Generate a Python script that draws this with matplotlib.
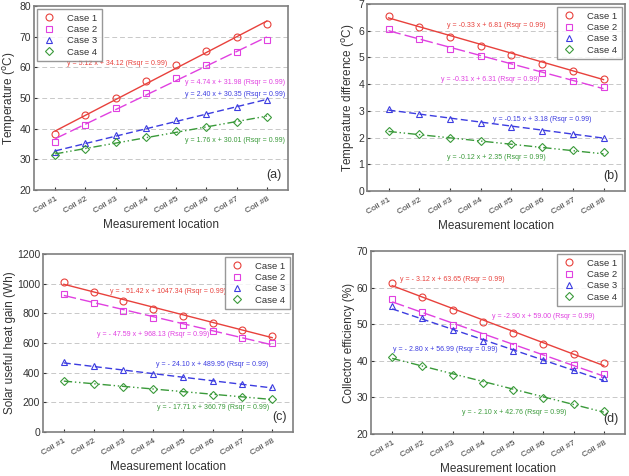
import matplotlib
matplotlib.use("Agg")
import matplotlib.pyplot as plt
import numpy as np

plt.rcParams.update({"font.family": ["Liberation Sans", "DejaVu Sans"], "font.size": 7})

COILS = ["Coil #1", "Coil #2", "Coil #3", "Coil #4", "Coil #5", "Coil #6", "Coil #7", "Coil #8"]
CASES = ["Case 1", "Case 2", "Case 3", "Case 4"]

# (a) temperature
temp_c1 = [38.2, 44.3, 50.1, 55.5, 60.6, 65.3, 69.9, 74.1]
temp_c2 = [35.7, 41.2, 46.6, 51.7, 56.4, 60.7, 64.9, 68.9]
temp_c3 = [32.4, 35.2, 37.8, 40.3, 42.7, 44.9, 47.0, 49.2]
temp_c4 = [31.3, 33.5, 35.5, 37.3, 39.1, 40.7, 42.3, 43.7]
temp_fit = [(5.12, 34.12), (4.74, 31.98), (2.40, 30.35), (1.76, 30.01)]
temp_eq = ["y = 5.12 x + 34.12 (Rsqr = 0.99)", "y = 4.74 x + 31.98 (Rsqr = 0.99)",
           "y = 2.40 x + 30.35 (Rsqr = 0.99)", "y = 1.76 x + 30.01 (Rsqr = 0.99)"]

# (b) temperature difference
dt_c1 = [6.55, 6.15, 5.77, 5.42, 5.08, 4.77, 4.48, 4.20]
dt_c2 = [6.05, 5.68, 5.33, 5.05, 4.70, 4.40, 4.13, 3.88]
dt_c3 = [3.07, 2.88, 2.70, 2.55, 2.40, 2.25, 2.15, 1.98]
dt_c4 = [2.25, 2.12, 2.00, 1.87, 1.75, 1.65, 1.55, 1.45]
dt_fit = [(-0.33, 6.81), (-0.31, 6.31), (-0.15, 3.18), (-0.12, 2.35)]
dt_eq = ["y = -0.33 x + 6.81 (Rsqr = 0.99)", "y = -0.31 x + 6.31 (Rsqr = 0.99)",
         "y = -0.15 x + 3.18 (Rsqr = 0.99)", "y = -0.12 x + 2.35 (Rsqr = 0.99)"]

# (c) solar useful heat gain
q_c1 = [1008, 945, 885, 832, 783, 735, 690, 647]
q_c2 = [932, 872, 818, 770, 720, 680, 635, 598]
q_c3 = [470, 442, 415, 392, 368, 345, 322, 302]
q_c4 = [347, 325, 305, 287, 268, 252, 237, 220]
q_fit = [(-51.42, 1047.34), (-47.59, 968.13), (-24.10, 489.95), (-17.71, 360.79)]
q_eq = ["y = - 51.42 x + 1047.34 (Rsqr = 0.99)", "y = - 47.59 x + 968.13 (Rsqr = 0.99)",
        "y = - 24.10 x + 489.95 (Rsqr = 0.99)", "y = - 17.71 x + 360.79 (Rsqr = 0.99)"]

# (d) collector efficiency
eff_c1 = [61.2, 57.5, 54.0, 50.6, 47.5, 44.6, 41.9, 39.3]
eff_c2 = [56.8, 53.3, 49.9, 46.9, 44.0, 41.3, 38.8, 36.4]
eff_c3 = [55.0, 51.6, 48.3, 45.5, 42.8, 40.1, 37.5, 35.2]
eff_c4 = [41.1, 38.6, 36.2, 33.9, 31.9, 29.9, 28.1, 26.4]
eff_fit = [(-3.12, 63.65), (-2.90, 59.00), (-2.80, 56.99), (-2.10, 42.76)]
eff_eq = ["y = - 3.12 x + 63.65 (Rsqr = 0.99)", "y = -2.90 x + 59.00 (Rsqr = 0.99)",
          "y = - 2.80 x + 56.99 (Rsqr = 0.99)", "y = - 2.10 x + 42.76 (Rsqr = 0.99)"]

COL = ["#e8413c", "#e040e0", "#3c3ce0", "#3a9a3a"]
MK = ["o", "s", "^", "D"]
LS = ["-", (0, (9, 3)), (0, (5, 2.5)), (0, (6, 2, 1, 2, 1, 2))]
GRAY = "#7f7f7f"

W, H = 629, 476
fig = plt.figure(figsize=(W / 100, H / 100), dpi=100)


def panel(box, series, fits, eqs, ylim, yticks, ylabel, tag, eqpos, legloc):
    l, t, r, b = box
    ax = fig.add_axes([l / W, 1 - b / H, (r - l) / W, (b - t) / H])
    x = np.arange(1, 9)
    handles = []
    for i, ys in enumerate(series):
        h, = ax.plot(x, ys, ls="none", marker=MK[i], mfc="none", mec=COL[i],
                     ms=5 if MK[i] != "D" else 4.3, mew=0.8, label=CASES[i])
        handles.append(h)
        a, c = fits[i]
        xx = np.array([1, 8])
        ax.plot(xx, a * xx + c, color=COL[i], ls=LS[i], lw=1.0)
        tx, ty, ha = eqpos[i]
        ax.text(tx, ty, eqs[i], color=COL[i], fontsize=5.0, ha=ha, va="center")
    ax.set_xlim(0.3, 8.7)
    ax.set_ylim(*ylim)
    ax.set_yticks(yticks)
    ax.set_xticks(x)
    ax.set_xticklabels(COILS, rotation=30, ha="right", rotation_mode="anchor", fontsize=6)
    ax.tick_params(axis="y", labelsize=7.5, colors="#333333", direction="in", length=2, pad=2)
    ax.tick_params(axis="x", colors="#333333", direction="in", length=2, pad=4)
    for yv in yticks[1:-1]:
        ax.axhline(yv, color="#c8c8c8", ls=(0, (5, 3)), lw=0.7, zorder=0)
    for s in ax.spines.values():
        s.set_color(GRAY)
        s.set_linewidth(1.2)
    ax.set_ylabel(ylabel, fontsize=8.5, color="#333333", labelpad=1)
    ax.set_xlabel("Measurement location", fontsize=8.5, color="#333333", labelpad=3)
    ax.text(0.975, 0.05, tag, transform=ax.transAxes, ha="right", va="bottom", fontsize=9,
            color="#333333")
    leg = ax.legend(handles=handles, loc=legloc, fontsize=6.8, frameon=True, fancybox=False,
                    edgecolor=GRAY, handletextpad=1.2, borderpad=0.5, labelspacing=0.25,
                    handlelength=1.5, borderaxespad=0.3)
    leg.get_frame().set_linewidth(1.0)
    for txt in leg.get_texts():
        txt.set_color("#333333")
    return ax


panel((34, 6, 288, 190), [temp_c1, temp_c2, temp_c3, temp_c4], temp_fit, temp_eq,
      (20, 80), [20, 30, 40, 50, 60, 70, 80], "Temperature ($^{\\mathrm{o}}$C)", "(a)",
      [(1.4, 61.1, "left"), (8.6, 54.9, "right"), (8.6, 51.0, "right"), (8.6, 36.0, "right")],
      "upper left")

panel((367, 4, 625, 191), [dt_c1, dt_c2, dt_c3, dt_c4], dt_fit, dt_eq,
      (0, 7), [0, 1, 2, 3, 4, 5, 6, 7], "Temperature difference ($^{\\mathrm{o}}$C)", "(b)",
      [(4.52, 6.18, "center"), (4.33, 4.19, "center"), (6.0, 2.69, "center"), (4.52, 1.27, "center")],
      "upper right")

panel((43, 254, 293, 432), [q_c1, q_c2, q_c3, q_c4], q_fit, q_eq,
      (0, 1200), [0, 200, 400, 600, 800, 1000, 1200], "Solar useful heat gain (Wh)", "(c)",
      [(4.5, 944, "center"), (4.0, 654, "center"), (6.0, 452, "center"), (6.0, 162, "center")],
      "upper right")

panel((371, 251, 625, 434), [eff_c1, eff_c2, eff_c3, eff_c4], eff_fit, eff_eq,
      (20, 70), [20, 30, 40, 50, 60, 70], "Collector efficiency (%)", "(d)",
      [(1.26, 62.3, "left"), (4.3, 52.2, "left"), (1.03, 43.2, "left"), (3.3, 26.0, "left")],
      "upper right")

fig.savefig("out.png", dpi=100)
